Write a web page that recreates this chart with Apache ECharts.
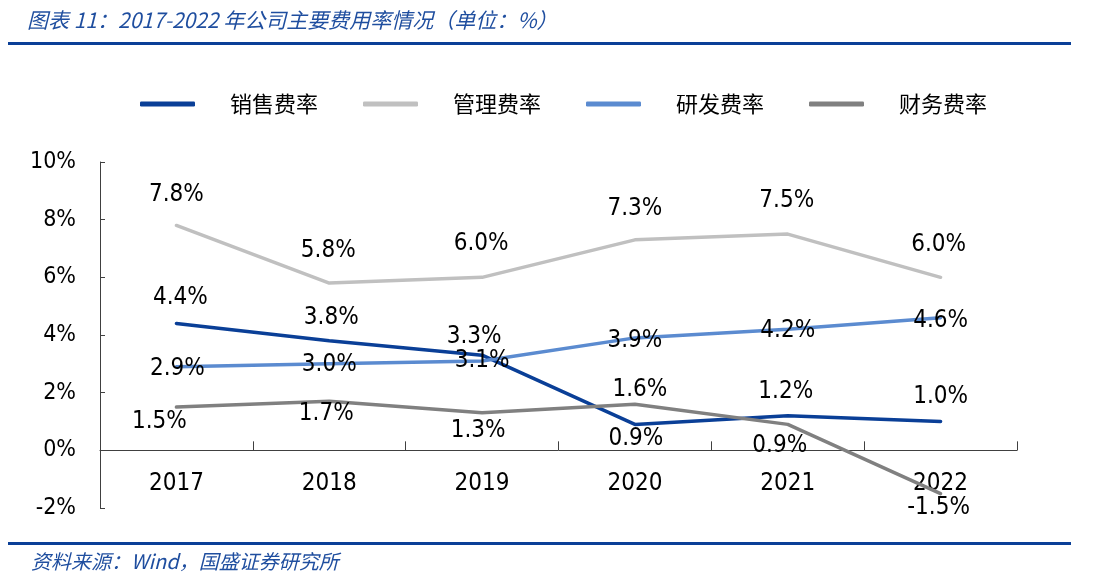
<!DOCTYPE html>
<html><head><meta charset="utf-8">
<script src="https://cdn.jsdelivr.net/npm/echarts@6/dist/echarts.min.js"></script>
<style>html,body{margin:0;padding:0;background:#fff}#c{width:1099px;height:582px}</style>
</head><body><div id="c"></div>
<script>
const categories = ['2017','2018','2019','2020','2021','2022'];
const sales = [4.4, 3.8, 3.3, 0.9, 1.2, 1.0];
const admin = [7.8, 5.8, 6.0, 7.3, 7.5, 6.0];
const rnd = [2.9, 3.0, 3.1, 3.9, 4.2, 4.6];
const fin = [1.5, 1.7, 1.3, 1.6, 0.9, -1.5];
const seriesNames = ['销售费率','管理费率','研发费率','财务费率'];
const yTicks = {min: -2, max: 10, interval: 2};

// label offsets (style, not data)
const offSales = [[4,-26],[2,-23],[-8,-18],[1,14],[-2,-24],[0,-25]];
const offAdmin = [[0,-31],[-1,-32],[-1,-34],[0,-31],[-1,-33],[-2,-33]];
const offRnd = [[1,2],[0,1],[0,0],[0,3],[0,2],[0,3]];
const offFin = [[-17,15],[-3,12],[-4,18],[5,-14],[-8,21],[-2,14]];

const FONT = '"DejaVu Sans Condensed","DejaVu Sans",sans-serif';
function mk(vals, offs) {
  return vals.map((v, i) => ({
    value: v,
    label: {offset: offs[i]}
  }));
}
function ser(name, vals, offs, color) {
  return {
    name, type: 'line', data: mk(vals, offs),
    symbol: 'circle', symbolSize: 1, showSymbol: true,
    lineStyle: {color, width: 3.5, cap: 'round'},
    itemStyle: {color},
    label: {show: true, position: 'inside', formatter: p => p.value.toFixed(1) + '%',
      fontFamily: FONT, fontSize: 24, color: '#000'},
    emphasis: {disabled: true},
    animation: false
  };
}
const chart = echarts.init(document.getElementById('c'));
chart.setOption({
  backgroundColor: '#fff',
  animation: false,
  title: [
    {text: '图表 11：2017-2022 年公司主要费用率情况（单位：%）', left: 22, top: 5,
      textStyle: {fontFamily: '"Noto Sans CJK SC",sans-serif', fontStyle: 'italic', fontWeight: 'normal', fontSize: 21, color: '#1F4E9F'}},
    {text: '资料来源：Wind，国盛证券研究所', left: 26, top: 546,
      textStyle: {fontFamily: '"Noto Sans CJK SC",sans-serif', fontStyle: 'italic', fontWeight: 'normal', fontSize: 20, color: '#1F4E9F'}}
  ],
  graphic: [
    {type: 'rect', shape: {x: 8, y: 42, width: 1063, height: 3}, style: {fill: '#0A3F97'}},
    {type: 'rect', shape: {x: 8, y: 542, width: 1063, height: 3}, style: {fill: '#0A3F97'}}
  ],
  legend: {
    left: 135, top: 88, itemWidth: 55, itemHeight: 5, itemGap: 45, icon: 'roundRect',
    data: seriesNames,
    textStyle: {fontFamily: '"Noto Sans CJK SC",sans-serif', fontSize: 22, color: '#000', padding: [0,0,0,30]}
  },
  grid: {left: 100, right: 82, top: 162, bottom: 74, containLabel: false},
  xAxis: {
    type: 'category', data: categories, boundaryGap: true,
    axisLine: {onZero: true, lineStyle: {color: '#404040', width: 1}},
    axisTick: {show: true, inside: true, length: 9, alignWithLabel: false, lineStyle: {color: '#404040'}},
    axisLabel: {fontFamily: FONT, fontSize: 24, color: '#000', margin: -36},
    splitLine: {show: false}
  },
  yAxis: {
    type: 'value', min: yTicks.min, max: yTicks.max, interval: yTicks.interval,
    axisLine: {show: true, lineStyle: {color: '#404040', width: 1}},
    axisTick: {show: true, inside: true, length: 5, lineStyle: {color: '#404040'}},
    axisLabel: {formatter: '{value}%', fontFamily: FONT, fontSize: 23, color: '#000', margin: 24},
    splitLine: {show: false}
  },
  color: ['#0A3F97','#C0C0C0','#5B8BD0','#808080'],
  series: [
    ser(seriesNames[0], sales, offSales, '#0A3F97'),
    ser(seriesNames[1], admin, offAdmin, '#C0C0C0'),
    ser(seriesNames[2], rnd, offRnd, '#5B8BD0'),
    ser(seriesNames[3], fin, offFin, '#808080')
  ]
});
</script></body></html>
